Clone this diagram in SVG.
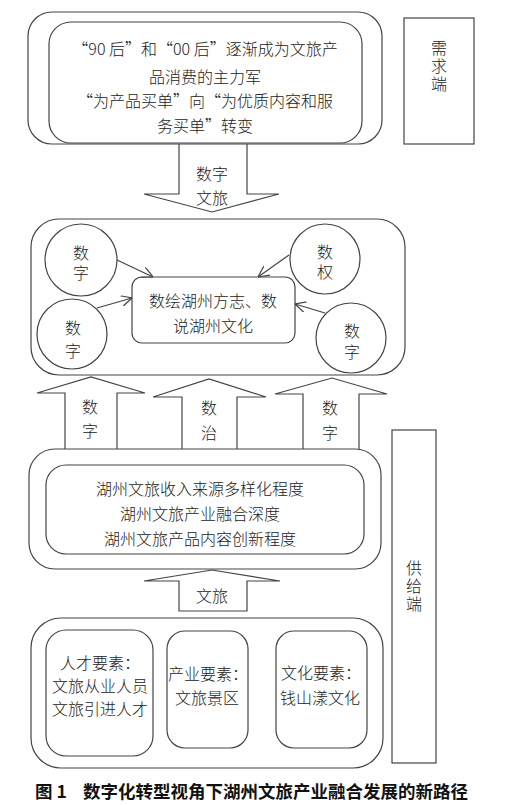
<svg xmlns="http://www.w3.org/2000/svg" width="515" height="805" viewBox="0 0 515 805">
<style>
.b{fill:none;stroke:#444;stroke-width:1.2}
text{font-family:"Noto Sans CJK SC",sans-serif;font-size:16px;fill:#222;text-anchor:middle;dominant-baseline:central;font-weight:300}
.v{writing-mode:vertical-rl;letter-spacing:2px;dominant-baseline:auto}
.cap{font-size:17.5px;font-weight:700;text-anchor:start;fill:#111}
</style>
<defs>
<marker id="ah" viewBox="0 0 10 10" refX="10" refY="5" markerWidth="11" markerHeight="11" markerUnits="userSpaceOnUse" orient="auto">
<path d="M0,0 L10,5 L0,10" fill="none" stroke="#444" stroke-width="1.1"/>
</marker>
</defs>
<rect width="515" height="805" fill="#fff"/>

<g id="demand-group">
<rect class="b" x="28" y="12" width="354" height="132" rx="24"/>
</g>
<g id="demand-content">
<rect class="b" x="49" y="22" width="313" height="121" rx="22"/>
<text x="205" y="48">“90 后”和“00 后”逐渐成为文旅产</text>
<text x="205" y="76">品消费的主力军</text>
<text x="205" y="100">“为产品买单”向“为优质内容和服</text>
<text x="205" y="125">务买单”转变</text>
</g>
<g id="demand-side">
<rect class="b" x="404" y="18" width="70" height="126"/>
<text class="v" x="439" y="67">需求端</text>
</g>

<g id="arrow-digital-tourism">
<polyline class="b" points="179,144 179,194 144,194 212,212 279,194 247,194 247,144"/>
<text x="212" y="173">数字</text>
<text x="212" y="197">文旅</text>
</g>

<g id="digital-group">
<rect class="b" x="31" y="219" width="374" height="156" rx="28"/>
</g>
<g id="center-node">
<rect class="b" x="132" y="277" width="163" height="66" rx="10"/>
<text x="213" y="300">数绘湖州方志、数</text>
<text x="213" y="325">说湖州文化</text>
</g>
<g id="circle-tl">
<circle class="b" cx="81" cy="260" r="36"/>
<text class="v" x="81" y="265" style="letter-spacing:4px">数字</text>
</g>
<g id="circle-bl">
<circle class="b" cx="72" cy="334" r="35"/>
<text class="v" x="73" y="343" style="letter-spacing:7px">数字</text>
</g>
<g id="circle-tr">
<circle class="b" cx="325" cy="259" r="35"/>
<text class="v" x="325" y="264" style="letter-spacing:4px">数权</text>
</g>
<g id="circle-br">
<circle class="b" cx="351" cy="338" r="35"/>
<text class="v" x="352" y="344" style="letter-spacing:5px">数字</text>
</g>

<g id="connectors">
<line class="b" x1="117" y1="260" x2="153" y2="277" marker-end="url(#ah)"/>
<line class="b" x1="97" y1="308" x2="132" y2="298" marker-end="url(#ah)"/>
<line class="b" x1="289" y1="255" x2="258" y2="277" marker-end="url(#ah)"/>
<line class="b" x1="325" y1="313" x2="295" y2="304" marker-end="url(#ah)"/>
</g>

<g id="arrow-up-1">
<polyline class="b" points="65,449 65,393 37,393 91,377 145,393 117,393 117,449"/>
<text x="90" y="406">数</text>
<text x="90" y="430">字</text>
</g>
<g id="arrow-up-2">
<polyline class="b" points="182,449 182,397 153,397 209,379 266,397 237,397 237,449"/>
<text x="209" y="407">数</text>
<text x="209" y="432">治</text>
</g>
<g id="arrow-up-3">
<polyline class="b" points="303,449 303,394 275,394 332,378 387,394 359,394 359,449"/>
<text x="330" y="407">数</text>
<text x="330" y="432">字</text>
</g>

<g id="supply-side">
<rect class="b" x="392" y="430" width="44" height="333"/>
<text class="v" x="414" y="587">供给端</text>
</g>

<g id="fusion-group">
<rect class="b" x="29" y="449" width="352" height="120" rx="26"/>
</g>
<g id="fusion-content">
<rect class="b" x="46" y="465" width="318" height="89" rx="20"/>
<text x="200" y="488">湖州文旅收入来源多样化程度</text>
<text x="200" y="513">湖州文旅产业融合深度</text>
<text x="200" y="538">湖州文旅产品内容创新程度</text>
</g>

<g id="arrow-tourism">
<polygon class="b" points="179,611 179,581 144,581 212,570 280,581 247,581 247,611"/>
<text x="212" y="595">文旅</text>
</g>

<g id="elements-group">
<rect class="b" x="31" y="618" width="352" height="150" rx="30"/>
</g>
<g id="talent">
<rect class="b" x="46" y="630" width="107" height="126" rx="20"/>
<text x="100" y="662">人才要素：</text>
<text x="100" y="685">文旅从业人员</text>
<text x="100" y="708">文旅引进人才</text>
</g>
<g id="industry">
<rect class="b" x="167" y="631" width="81" height="117" rx="18"/>
<text x="208" y="673">产业要素：</text>
<text x="207" y="697">文旅景区</text>
</g>
<g id="culture">
<rect class="b" x="276" y="631" width="91" height="117" rx="18"/>
<text x="321" y="672">文化要素：</text>
<text x="320" y="697">钱山漾文化</text>
</g>

<g id="caption">
<text class="cap" x="35" y="790">图 1</text>
<text class="cap" x="83" y="790">数字化转型视角下湖州文旅产业融合发展的新路径</text>
</g>
</svg>
